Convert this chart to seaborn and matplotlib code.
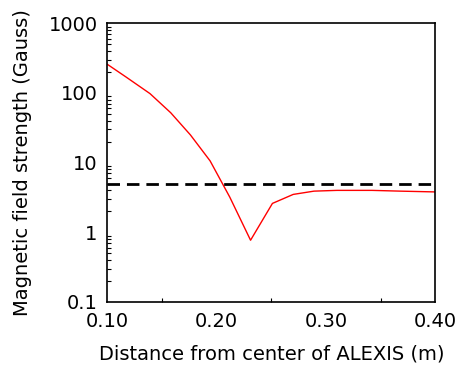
import numpy as np
import pandas as pd
import matplotlib
matplotlib.use("Agg")
import matplotlib.pyplot as plt
import matplotlib.ticker as mticker
import seaborn as sns

# valores
distancia = [0.10, 0.117, 0.139, 0.158, 0.176, 0.194, 0.212, 0.231, 0.251, 0.27, 0.289, 0.31, 0.342, 0.368, 0.40]
campo = [258, 170, 98, 52, 25, 10.6, 3.2, 0.77, 2.6, 3.5, 3.9, 4.0, 4.0, 3.9, 3.8]
limite = 5.0

x_ticks = [0.10, 0.20, 0.30, 0.40]
y_ticks = [0.1, 1, 10, 100, 1000]
y_labels = ["0.1", "1", "10", "100", "1000"]

sns.set_theme(style="white")
plt.rcParams['font.family'] = ['DejaVu Sans']

df = pd.DataFrame({'x': distancia, 'y': campo})

fig = plt.figure(figsize=(4.62, 3.66), dpi=100)
ax = fig.add_axes([0.2323, 0.1749, 0.7100, 0.7614])

sns.lineplot(data=df, x='x', y='y', color='red', linewidth=1.0, ax=ax)
ax.axhline(limite, color='black', linestyle=(0, (4.5, 2.5)), linewidth=2.0)

ax.set_yscale('log')
ax.set_xlim(0.10, 0.40)
ax.set_ylim(0.1, 1000)
ax.set_xticks(x_ticks)
ax.set_xticklabels([f"{t:.2f}" for t in x_ticks])
ax.xaxis.set_minor_locator(mticker.MultipleLocator(0.05))
ax.set_yticks(y_ticks)
ax.set_yticklabels(y_labels)
ax.yaxis.set_minor_locator(mticker.LogLocator(base=10, subs=np.arange(2, 10)))
ax.yaxis.set_minor_formatter(mticker.NullFormatter())

ax.tick_params(axis='both', which='both', direction='in', colors='black',
               labelsize=14)
ax.tick_params(axis='x', which='major', pad=7)
ax.tick_params(axis='y', which='major', pad=7)
ax.tick_params(axis='both', which='major', length=6, width=1)
ax.tick_params(axis='both', which='minor', length=3, width=0.8, bottom=True, left=True)

for s in ax.spines.values():
    s.set_color('black')
    s.set_linewidth(1.2)

ax.set_xlabel('Distance from center of ALEXIS (m)', fontsize=14, labelpad=10, color='black')
ax.set_ylabel('Magnetic field strength (Gauss)', fontsize=14, labelpad=12, color='black')

fig.savefig('out.png', dpi=100)
